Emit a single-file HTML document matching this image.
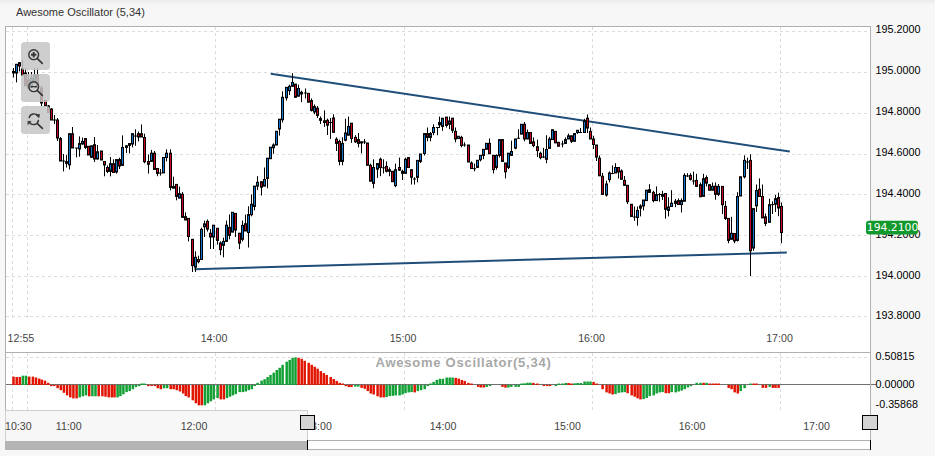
<!DOCTYPE html><html><head><meta charset="utf-8"><title>Awesome Oscillator (5,34)</title>
<style>html,body{margin:0;padding:0;background:#f7f7f7;overflow:hidden}svg{display:block}text{font-family:"Liberation Sans",Arial,sans-serif;font-size:11px}.ax{fill:#000;font-size:10.75px}.tm{fill:#444;font-size:10.65px}.g{stroke:#dcdcdc;stroke-width:1;stroke-dasharray:3 3;shape-rendering:crispEdges;fill:none}.b{stroke:#b0b0b0;stroke-width:1;shape-rendering:crispEdges;fill:none}.w{stroke:#000;stroke-width:1}.cr{fill:#c8061f;stroke:#000;stroke-width:1}.cb{fill:#1074cf;stroke:#000;stroke-width:1}.ar{fill:#e01400}.ag{fill:#12a035}</style></head><body>
<svg width="935" height="456" viewBox="0 0 935 456">
<defs><linearGradient id="tg" x1="0" y1="0" x2="0" y2="1"><stop offset="0" stop-color="#ebebeb"/><stop offset="1" stop-color="#f7f7f7"/></linearGradient></defs>
<rect x="0" y="0" width="935" height="456" fill="#f7f7f7"/>
<rect x="0" y="0" width="935" height="5" fill="url(#tg)"/>
<text x="16" y="15.6" fill="#333">Awesome Oscillator (5,34)</text>
<rect x="5.5" y="26.5" width="865" height="384" fill="#fff"/>
<rect x="307.5" y="410" width="563" height="31" fill="#fff"/>
<line class="g" x1="6" x2="870" y1="31.5" y2="31.5"/>
<line class="g" x1="6" x2="870" y1="72.5" y2="72.5"/>
<line class="g" x1="6" x2="870" y1="113.5" y2="113.5"/>
<line class="g" x1="6" x2="870" y1="154.5" y2="154.5"/>
<line class="g" x1="6" x2="870" y1="194.5" y2="194.5"/>
<line class="g" x1="6" x2="870" y1="235.5" y2="235.5"/>
<line class="g" x1="6" x2="870" y1="276.5" y2="276.5"/>
<line class="g" x1="6" x2="870" y1="316.5" y2="316.5"/>
<line class="g" x1="12.5" x2="12.5" y1="27" y2="320"/>
<line class="g" x1="12.5" x2="12.5" y1="353" y2="410"/>
<line class="g" x1="27.5" x2="27.5" y1="27" y2="320"/>
<line class="g" x1="27.5" x2="27.5" y1="353" y2="410"/>
<line class="g" x1="215.5" x2="215.5" y1="27" y2="320"/>
<line class="g" x1="215.5" x2="215.5" y1="353" y2="410"/>
<line class="g" x1="404.5" x2="404.5" y1="27" y2="320"/>
<line class="g" x1="404.5" x2="404.5" y1="353" y2="410"/>
<line class="g" x1="592.5" x2="592.5" y1="27" y2="320"/>
<line class="g" x1="592.5" x2="592.5" y1="353" y2="410"/>
<line class="g" x1="780.5" x2="780.5" y1="27" y2="320"/>
<line class="g" x1="780.5" x2="780.5" y1="353" y2="410"/>
<line class="g" x1="6" x2="870" y1="357.5" y2="357.5"/>
<line x1="270.7" y1="73.7" x2="789.8" y2="151.6" stroke="#1f4e79" stroke-width="2"/>
<line x1="194.4" y1="269.2" x2="786.8" y2="252.5" stroke="#1f4e79" stroke-width="2"/>
<line class="w" x1="13.5" x2="13.5" y1="68.0" y2="77.5"/>
<rect class="cr" x="12.50" y="71.5" width="2" height="1.5"/>
<line class="w" x1="16.5" x2="16.5" y1="64.0" y2="82.4"/>
<rect class="cb" x="15.50" y="64.3" width="2" height="8.7"/>
<line class="w" x1="19.5" x2="19.5" y1="62.0" y2="71.4"/>
<rect class="cr" x="18.50" y="62.7" width="2" height="3.3"/>
<line class="w" x1="22.5" x2="22.5" y1="60.0" y2="75.3"/>
<rect class="cr" x="21.50" y="68.7" width="2" height="6.6"/>
<line class="w" x1="25.5" x2="25.5" y1="68.0" y2="86.0"/>
<rect class="cr" x="24.50" y="73.0" width="2" height="12.7"/>
<line class="w" x1="28.5" x2="28.5" y1="72.0" y2="88.2"/>
<rect class="cr" x="27.50" y="80.0" width="2" height="8.0"/>
<line class="w" x1="31.5" x2="31.5" y1="72.0" y2="88.0"/>
<rect class="cb" x="30.50" y="78.0" width="2" height="9.0"/>
<line class="w" x1="34.5" x2="34.5" y1="68.0" y2="84.0"/>
<rect class="cb" x="33.50" y="75.0" width="2" height="7.0"/>
<line class="w" x1="37.5" x2="37.5" y1="68.0" y2="88.0"/>
<rect class="cr" x="36.50" y="74.8" width="2" height="11.2"/>
<line class="w" x1="41.5" x2="41.5" y1="86.0" y2="106.0"/>
<rect class="cr" x="40.50" y="88.0" width="2" height="15.0"/>
<line class="w" x1="45.5" x2="45.5" y1="100.0" y2="106.0"/>
<rect class="cr" x="44.50" y="100.5" width="2" height="5.5"/>
<line class="w" x1="48.5" x2="48.5" y1="105.0" y2="113.0"/>
<rect class="cr" x="47.50" y="106.0" width="2" height="6.5"/>
<line class="w" x1="51.5" x2="51.5" y1="108.0" y2="120.0"/>
<rect class="cr" x="50.50" y="109.0" width="2" height="11.0"/>
<line class="w" x1="54.5" x2="54.5" y1="115.0" y2="124.0"/>
<line class="w" x1="52.9" x2="56.1" y1="120.0" y2="120.0"/>
<line class="w" x1="57.5" x2="57.5" y1="118.0" y2="141.0"/>
<rect class="cr" x="56.50" y="120.0" width="2" height="18.0"/>
<line class="w" x1="60.5" x2="60.5" y1="137.0" y2="161.0"/>
<rect class="cr" x="59.50" y="138.6" width="2" height="22.4"/>
<line class="w" x1="63.5" x2="63.5" y1="154.0" y2="171.4"/>
<line class="w" x1="61.9" x2="65.1" y1="161.0" y2="161.0"/>
<line class="w" x1="66.5" x2="66.5" y1="155.0" y2="167.5"/>
<rect class="cr" x="65.50" y="161.7" width="2" height="1.6"/>
<line class="w" x1="69.5" x2="69.5" y1="133.7" y2="169.5"/>
<rect class="cb" x="68.50" y="133.7" width="2" height="31.1"/>
<line class="w" x1="72.5" x2="72.5" y1="127.0" y2="148.0"/>
<rect class="cr" x="71.50" y="133.7" width="2" height="14.3"/>
<line class="w" x1="76.5" x2="76.5" y1="148.0" y2="157.3"/>
<line class="w" x1="74.9" x2="78.1" y1="148.0" y2="148.0"/>
<line class="w" x1="79.5" x2="79.5" y1="136.4" y2="156.7"/>
<rect class="cb" x="78.50" y="143.6" width="2" height="5.4"/>
<line class="w" x1="82.5" x2="82.5" y1="137.5" y2="144.7"/>
<rect class="cb" x="81.50" y="141.4" width="2" height="2.6"/>
<line class="w" x1="85.5" x2="85.5" y1="138.0" y2="149.0"/>
<rect class="cr" x="84.50" y="138.6" width="2" height="8.8"/>
<line class="w" x1="88.5" x2="88.5" y1="146.0" y2="155.0"/>
<rect class="cr" x="87.50" y="146.3" width="2" height="8.7"/>
<line class="w" x1="91.5" x2="91.5" y1="145.8" y2="157.3"/>
<rect class="cb" x="90.50" y="145.8" width="2" height="11.5"/>
<line class="w" x1="94.5" x2="94.5" y1="137.0" y2="162.0"/>
<rect class="cr" x="93.50" y="144.7" width="2" height="14.3"/>
<line class="w" x1="97.5" x2="97.5" y1="145.0" y2="159.5"/>
<rect class="cb" x="96.50" y="151.8" width="2" height="7.2"/>
<line class="w" x1="101.5" x2="101.5" y1="151.0" y2="160.0"/>
<rect class="cr" x="100.50" y="151.0" width="2" height="9.0"/>
<line class="w" x1="104.5" x2="104.5" y1="161.0" y2="176.3"/>
<rect class="cr" x="103.50" y="161.5" width="2" height="3.5"/>
<line class="w" x1="107.5" x2="107.5" y1="165.4" y2="173.0"/>
<rect class="cr" x="106.50" y="167.5" width="2" height="3.9"/>
<line class="w" x1="110.5" x2="110.5" y1="157.0" y2="176.3"/>
<rect class="cb" x="109.50" y="163.7" width="2" height="7.7"/>
<line class="w" x1="113.5" x2="113.5" y1="159.3" y2="173.0"/>
<rect class="cr" x="112.50" y="163.7" width="2" height="8.8"/>
<line class="w" x1="116.5" x2="116.5" y1="159.6" y2="173.6"/>
<rect class="cb" x="115.50" y="159.6" width="2" height="12.4"/>
<line class="w" x1="119.5" x2="119.5" y1="157.7" y2="169.0"/>
<rect class="cr" x="118.50" y="159.6" width="2" height="6.4"/>
<line class="w" x1="122.5" x2="122.5" y1="135.4" y2="165.4"/>
<rect class="cb" x="121.50" y="147.4" width="2" height="18.0"/>
<line class="w" x1="126.5" x2="126.5" y1="145.2" y2="153.0"/>
<rect class="cb" x="125.50" y="145.8" width="2" height="1.6"/>
<line class="w" x1="129.5" x2="129.5" y1="143.0" y2="153.4"/>
<rect class="cb" x="128.50" y="143.6" width="2" height="1.8"/>
<line class="w" x1="132.5" x2="132.5" y1="133.7" y2="147.4"/>
<rect class="cb" x="131.50" y="133.7" width="2" height="10.3"/>
<line class="w" x1="135.5" x2="135.5" y1="129.3" y2="145.8"/>
<line class="w" x1="133.9" x2="137.1" y1="136.0" y2="136.0"/>
<line class="w" x1="138.5" x2="138.5" y1="131.5" y2="141.4"/>
<rect class="cr" x="137.50" y="133.7" width="2" height="3.3"/>
<line class="w" x1="141.5" x2="141.5" y1="124.4" y2="137.0"/>
<rect class="cr" x="140.50" y="133.7" width="2" height="3.3"/>
<line class="w" x1="144.5" x2="144.5" y1="133.7" y2="163.3"/>
<rect class="cr" x="143.50" y="137.5" width="2" height="24.2"/>
<line class="w" x1="148.5" x2="148.5" y1="154.4" y2="173.6"/>
<rect class="cr" x="147.50" y="161.5" width="2" height="2.8"/>
<line class="w" x1="151.5" x2="151.5" y1="149.9" y2="161.4"/>
<rect class="cb" x="150.50" y="153.2" width="2" height="8.2"/>
<line class="w" x1="154.5" x2="154.5" y1="151.0" y2="169.4"/>
<rect class="cr" x="153.50" y="153.2" width="2" height="16.2"/>
<line class="w" x1="157.5" x2="157.5" y1="168.5" y2="176.2"/>
<rect class="cr" x="156.50" y="168.5" width="2" height="4.9"/>
<line class="w" x1="160.5" x2="160.5" y1="169.0" y2="175.6"/>
<line class="w" x1="158.9" x2="162.1" y1="173.0" y2="173.0"/>
<line class="w" x1="163.5" x2="163.5" y1="157.5" y2="172.9"/>
<rect class="cb" x="162.50" y="157.5" width="2" height="15.4"/>
<line class="w" x1="166.5" x2="166.5" y1="149.3" y2="161.4"/>
<rect class="cb" x="165.50" y="153.2" width="2" height="4.3"/>
<line class="w" x1="170.5" x2="170.5" y1="149.3" y2="190.4"/>
<rect class="cr" x="169.50" y="153.2" width="2" height="34.2"/>
<line class="w" x1="173.5" x2="173.5" y1="176.7" y2="188.2"/>
<rect class="cb" x="172.50" y="186.6" width="2" height="1.6"/>
<line class="w" x1="176.5" x2="176.5" y1="184.4" y2="200.3"/>
<rect class="cr" x="175.50" y="184.4" width="2" height="12.0"/>
<line class="w" x1="179.5" x2="179.5" y1="186.6" y2="198.1"/>
<rect class="cb" x="178.50" y="193.7" width="2" height="4.4"/>
<line class="w" x1="182.5" x2="182.5" y1="192.0" y2="217.3"/>
<rect class="cr" x="181.50" y="194.3" width="2" height="23.0"/>
<line class="w" x1="185.5" x2="185.5" y1="212.3" y2="220.0"/>
<rect class="cr" x="184.50" y="216.7" width="2" height="3.3"/>
<line class="w" x1="188.5" x2="188.5" y1="218.4" y2="241.4"/>
<rect class="cr" x="187.50" y="218.4" width="2" height="18.1"/>
<line class="w" x1="192.5" x2="192.5" y1="239.3" y2="272.0"/>
<rect class="cr" x="191.50" y="239.3" width="2" height="26.3"/>
<line class="w" x1="195.5" x2="195.5" y1="251.3" y2="272.0"/>
<rect class="cb" x="194.50" y="257.3" width="2" height="9.9"/>
<line class="w" x1="198.5" x2="198.5" y1="255.7" y2="263.4"/>
<rect class="cr" x="197.50" y="259.5" width="2" height="2.2"/>
<line class="w" x1="201.5" x2="201.5" y1="227.7" y2="259.5"/>
<rect class="cb" x="200.50" y="229.4" width="2" height="30.1"/>
<line class="w" x1="204.5" x2="204.5" y1="220.6" y2="237.0"/>
<rect class="cb" x="203.50" y="223.9" width="2" height="2.9"/>
<line class="w" x1="207.5" x2="207.5" y1="219.5" y2="231.6"/>
<rect class="cr" x="206.50" y="221.4" width="2" height="7.7"/>
<line class="w" x1="210.5" x2="210.5" y1="229.0" y2="249.0"/>
<rect class="cr" x="209.50" y="233.2" width="2" height="3.8"/>
<line class="w" x1="213.5" x2="213.5" y1="225.2" y2="249.0"/>
<rect class="cb" x="212.50" y="225.2" width="2" height="11.8"/>
<line class="w" x1="217.5" x2="217.5" y1="228.3" y2="244.7"/>
<rect class="cr" x="216.50" y="228.3" width="2" height="12.1"/>
<line class="w" x1="220.5" x2="220.5" y1="241.4" y2="255.2"/>
<rect class="cr" x="219.50" y="243.0" width="2" height="6.7"/>
<line class="w" x1="223.5" x2="223.5" y1="237.6" y2="257.3"/>
<rect class="cb" x="222.50" y="241.4" width="2" height="3.9"/>
<line class="w" x1="226.5" x2="226.5" y1="220.6" y2="241.4"/>
<rect class="cb" x="225.50" y="225.2" width="2" height="16.2"/>
<line class="w" x1="229.5" x2="229.5" y1="214.5" y2="239.3"/>
<rect class="cr" x="228.50" y="227.4" width="2" height="8.0"/>
<line class="w" x1="232.5" x2="232.5" y1="212.3" y2="232.1"/>
<rect class="cb" x="231.50" y="212.3" width="2" height="19.8"/>
<line class="w" x1="235.5" x2="235.5" y1="213.4" y2="237.0"/>
<rect class="cr" x="234.50" y="213.4" width="2" height="16.6"/>
<line class="w" x1="239.5" x2="239.5" y1="233.2" y2="249.1"/>
<rect class="cr" x="238.50" y="233.2" width="2" height="9.9"/>
<line class="w" x1="242.5" x2="242.5" y1="220.6" y2="241.4"/>
<rect class="cb" x="241.50" y="225.4" width="2" height="13.9"/>
<line class="w" x1="245.5" x2="245.5" y1="214.6" y2="231.0"/>
<rect class="cr" x="244.50" y="223.8" width="2" height="7.2"/>
<line class="w" x1="248.5" x2="248.5" y1="206.3" y2="247.5"/>
<rect class="cb" x="247.50" y="214.6" width="2" height="17.9"/>
<line class="w" x1="251.5" x2="251.5" y1="194.4" y2="216.3"/>
<rect class="cb" x="250.50" y="204.3" width="2" height="10.4"/>
<line class="w" x1="254.5" x2="254.5" y1="186.1" y2="210.3"/>
<rect class="cb" x="253.50" y="186.1" width="2" height="20.3"/>
<line class="w" x1="257.5" x2="257.5" y1="176.2" y2="190.0"/>
<rect class="cb" x="256.50" y="182.3" width="2" height="3.8"/>
<line class="w" x1="261.5" x2="261.5" y1="181.7" y2="195.5"/>
<rect class="cr" x="260.50" y="181.7" width="2" height="5.5"/>
<line class="w" x1="264.5" x2="264.5" y1="167.5" y2="186.1"/>
<rect class="cb" x="263.50" y="179.5" width="2" height="6.6"/>
<line class="w" x1="267.5" x2="267.5" y1="158.2" y2="188.3"/>
<rect class="cb" x="266.50" y="158.2" width="2" height="20.2"/>
<line class="w" x1="270.5" x2="270.5" y1="147.2" y2="158.7"/>
<rect class="cb" x="269.50" y="147.2" width="2" height="11.5"/>
<line class="w" x1="273.5" x2="273.5" y1="143.3" y2="153.8"/>
<rect class="cb" x="272.50" y="145.0" width="2" height="2.7"/>
<line class="w" x1="276.5" x2="276.5" y1="131.3" y2="145.0"/>
<rect class="cb" x="275.50" y="131.3" width="2" height="13.7"/>
<line class="w" x1="279.5" x2="279.5" y1="119.2" y2="135.6"/>
<rect class="cb" x="278.50" y="119.2" width="2" height="9.8"/>
<line class="w" x1="282.5" x2="282.5" y1="91.3" y2="122.5"/>
<rect class="cb" x="281.50" y="97.3" width="2" height="22.4"/>
<line class="w" x1="286.5" x2="286.5" y1="87.4" y2="100.6"/>
<rect class="cb" x="285.50" y="87.4" width="2" height="10.4"/>
<line class="w" x1="289.5" x2="289.5" y1="84.7" y2="95.0"/>
<rect class="cb" x="288.50" y="86.3" width="2" height="4.4"/>
<line class="w" x1="292.5" x2="292.5" y1="73.2" y2="86.3"/>
<rect class="cb" x="291.50" y="82.5" width="2" height="3.8"/>
<line class="w" x1="295.5" x2="295.5" y1="84.1" y2="97.3"/>
<rect class="cr" x="294.50" y="84.1" width="2" height="13.2"/>
<line class="w" x1="298.5" x2="298.5" y1="84.7" y2="96.2"/>
<rect class="cb" x="297.50" y="88.5" width="2" height="7.7"/>
<line class="w" x1="301.5" x2="301.5" y1="90.7" y2="102.2"/>
<rect class="cr" x="300.50" y="92.3" width="2" height="1.7"/>
<line class="w" x1="305.5" x2="305.5" y1="88.5" y2="98.4"/>
<line class="w" x1="303.9" x2="307.1" y1="93.0" y2="93.0"/>
<line class="w" x1="308.5" x2="308.5" y1="93.4" y2="102.2"/>
<rect class="cr" x="307.50" y="93.4" width="2" height="8.8"/>
<line class="w" x1="311.5" x2="311.5" y1="98.4" y2="111.5"/>
<rect class="cr" x="310.50" y="100.6" width="2" height="9.8"/>
<line class="w" x1="314.5" x2="314.5" y1="104.4" y2="114.3"/>
<rect class="cb" x="313.50" y="106.6" width="2" height="5.4"/>
<line class="w" x1="317.5" x2="317.5" y1="106.0" y2="118.0"/>
<rect class="cr" x="316.50" y="108.2" width="2" height="7.2"/>
<line class="w" x1="320.5" x2="320.5" y1="116.4" y2="124.0"/>
<rect class="cr" x="319.50" y="118.6" width="2" height="1.7"/>
<line class="w" x1="324.5" x2="324.5" y1="110.4" y2="126.9"/>
<rect class="cr" x="323.50" y="120.8" width="2" height="1.7"/>
<line class="w" x1="327.5" x2="327.5" y1="118.6" y2="135.0"/>
<rect class="cr" x="326.50" y="120.3" width="2" height="4.9"/>
<line class="w" x1="330.5" x2="330.5" y1="118.0" y2="139.0"/>
<line class="w" x1="328.9" x2="332.1" y1="122.5" y2="122.5"/>
<line class="w" x1="333.5" x2="333.5" y1="114.3" y2="132.3"/>
<rect class="cr" x="332.50" y="118.0" width="2" height="14.3"/>
<line class="w" x1="336.5" x2="336.5" y1="137.3" y2="151.0"/>
<rect class="cr" x="335.50" y="139.2" width="2" height="4.2"/>
<line class="w" x1="339.5" x2="339.5" y1="139.6" y2="165.3"/>
<rect class="cr" x="338.50" y="141.5" width="2" height="19.9"/>
<line class="w" x1="342.5" x2="342.5" y1="137.4" y2="165.3"/>
<rect class="cb" x="341.50" y="143.4" width="2" height="18.0"/>
<line class="w" x1="345.5" x2="345.5" y1="118.8" y2="141.3"/>
<rect class="cb" x="344.50" y="133.0" width="2" height="7.2"/>
<line class="w" x1="348.5" x2="348.5" y1="116.6" y2="135.2"/>
<rect class="cb" x="347.50" y="126.4" width="2" height="8.8"/>
<line class="w" x1="351.5" x2="351.5" y1="123.2" y2="142.9"/>
<rect class="cr" x="350.50" y="123.2" width="2" height="15.3"/>
<line class="w" x1="355.5" x2="355.5" y1="135.2" y2="142.9"/>
<rect class="cr" x="354.50" y="137.4" width="2" height="4.4"/>
<line class="w" x1="358.5" x2="358.5" y1="133.0" y2="147.3"/>
<rect class="cr" x="357.50" y="139.6" width="2" height="3.8"/>
<line class="w" x1="361.5" x2="361.5" y1="141.8" y2="153.3"/>
<rect class="cr" x="360.50" y="141.8" width="2" height="1.2"/>
<line class="w" x1="364.5" x2="364.5" y1="139.0" y2="144.0"/>
<line class="w" x1="362.9" x2="366.1" y1="142.0" y2="142.0"/>
<line class="w" x1="367.5" x2="367.5" y1="143.0" y2="165.3"/>
<rect class="cr" x="366.50" y="143.0" width="2" height="22.3"/>
<line class="w" x1="370.5" x2="370.5" y1="163.6" y2="181.2"/>
<rect class="cr" x="369.50" y="165.3" width="2" height="15.9"/>
<line class="w" x1="373.5" x2="373.5" y1="159.3" y2="188.3"/>
<rect class="cb" x="372.50" y="167.5" width="2" height="15.9"/>
<line class="w" x1="377.5" x2="377.5" y1="163.6" y2="177.9"/>
<rect class="cb" x="376.50" y="163.6" width="2" height="5.5"/>
<line class="w" x1="380.5" x2="380.5" y1="157.6" y2="176.2"/>
<rect class="cr" x="379.50" y="159.3" width="2" height="8.2"/>
<line class="w" x1="383.5" x2="383.5" y1="159.3" y2="173.5"/>
<line class="w" x1="381.9" x2="385.1" y1="167.8" y2="167.8"/>
<line class="w" x1="386.5" x2="386.5" y1="161.4" y2="172.4"/>
<rect class="cr" x="385.50" y="166.4" width="2" height="4.9"/>
<line class="w" x1="389.5" x2="389.5" y1="167.5" y2="176.2"/>
<rect class="cb" x="388.50" y="169.7" width="2" height="1.6"/>
<line class="w" x1="392.5" x2="392.5" y1="171.3" y2="181.7"/>
<rect class="cr" x="391.50" y="171.3" width="2" height="10.4"/>
<line class="w" x1="395.5" x2="395.5" y1="163.6" y2="187.2"/>
<rect class="cb" x="394.50" y="169.7" width="2" height="15.9"/>
<line class="w" x1="399.5" x2="399.5" y1="157.6" y2="170.8"/>
<rect class="cr" x="398.50" y="167.5" width="2" height="2.7"/>
<line class="w" x1="402.5" x2="402.5" y1="169.7" y2="180.0"/>
<rect class="cr" x="401.50" y="171.3" width="2" height="2.0"/>
<line class="w" x1="405.5" x2="405.5" y1="157.6" y2="173.3"/>
<rect class="cb" x="404.50" y="159.3" width="2" height="14.0"/>
<line class="w" x1="408.5" x2="408.5" y1="157.1" y2="167.5"/>
<rect class="cr" x="407.50" y="157.6" width="2" height="9.9"/>
<line class="w" x1="411.5" x2="411.5" y1="169.7" y2="184.5"/>
<rect class="cr" x="410.50" y="169.7" width="2" height="7.6"/>
<line class="w" x1="414.5" x2="414.5" y1="177.3" y2="184.5"/>
<line class="w" x1="412.9" x2="416.1" y1="179.0" y2="179.0"/>
<line class="w" x1="417.5" x2="417.5" y1="160.4" y2="182.3"/>
<rect class="cb" x="416.50" y="160.4" width="2" height="16.9"/>
<line class="w" x1="420.5" x2="420.5" y1="154.0" y2="163.0"/>
<rect class="cb" x="419.50" y="154.0" width="2" height="7.4"/>
<line class="w" x1="424.5" x2="424.5" y1="133.6" y2="155.5"/>
<rect class="cb" x="423.50" y="133.6" width="2" height="19.9"/>
<line class="w" x1="427.5" x2="427.5" y1="127.5" y2="141.3"/>
<rect class="cr" x="426.50" y="133.6" width="2" height="3.8"/>
<line class="w" x1="430.5" x2="430.5" y1="132.0" y2="141.3"/>
<rect class="cb" x="429.50" y="133.6" width="2" height="3.8"/>
<line class="w" x1="433.5" x2="433.5" y1="124.3" y2="135.2"/>
<rect class="cb" x="432.50" y="127.5" width="2" height="5.0"/>
<line class="w" x1="437.5" x2="437.5" y1="127.5" y2="135.2"/>
<line class="w" x1="435.9" x2="439.1" y1="127.5" y2="127.5"/>
<line class="w" x1="439.5" x2="439.5" y1="116.6" y2="128.0"/>
<rect class="cr" x="438.50" y="122.6" width="2" height="2.2"/>
<line class="w" x1="442.5" x2="442.5" y1="118.2" y2="130.8"/>
<rect class="cb" x="441.50" y="118.2" width="2" height="8.2"/>
<line class="w" x1="446.5" x2="446.5" y1="117.1" y2="127.5"/>
<rect class="cr" x="445.50" y="117.1" width="2" height="8.3"/>
<line class="w" x1="449.5" x2="449.5" y1="116.6" y2="129.2"/>
<rect class="cb" x="448.50" y="121.0" width="2" height="3.3"/>
<line class="w" x1="452.5" x2="452.5" y1="118.2" y2="133.0"/>
<rect class="cr" x="451.50" y="118.2" width="2" height="12.1"/>
<line class="w" x1="455.5" x2="455.5" y1="127.5" y2="142.3"/>
<rect class="cr" x="454.50" y="131.4" width="2" height="7.6"/>
<line class="w" x1="458.5" x2="458.5" y1="136.3" y2="138.5"/>
<rect class="cb" x="457.50" y="136.3" width="2" height="2.2"/>
<line class="w" x1="461.5" x2="461.5" y1="135.8" y2="147.3"/>
<rect class="cr" x="460.50" y="137.4" width="2" height="8.2"/>
<line class="w" x1="464.5" x2="464.5" y1="142.3" y2="146.7"/>
<line class="w" x1="462.9" x2="466.1" y1="145.0" y2="145.0"/>
<line class="w" x1="468.5" x2="468.5" y1="145.0" y2="162.0"/>
<rect class="cr" x="467.50" y="145.0" width="2" height="17.0"/>
<line class="w" x1="471.5" x2="471.5" y1="161.4" y2="168.5"/>
<rect class="cr" x="470.50" y="163.0" width="2" height="5.5"/>
<line class="w" x1="474.5" x2="474.5" y1="163.6" y2="171.3"/>
<line class="w" x1="472.9" x2="476.1" y1="168.7" y2="168.7"/>
<line class="w" x1="477.5" x2="477.5" y1="160.3" y2="167.4"/>
<rect class="cb" x="476.50" y="160.3" width="2" height="7.1"/>
<line class="w" x1="480.5" x2="480.5" y1="155.4" y2="161.4"/>
<rect class="cb" x="479.50" y="155.4" width="2" height="4.3"/>
<line class="w" x1="483.5" x2="483.5" y1="149.3" y2="159.2"/>
<rect class="cb" x="482.50" y="149.3" width="2" height="6.1"/>
<line class="w" x1="486.5" x2="486.5" y1="143.3" y2="149.3"/>
<rect class="cb" x="485.50" y="143.3" width="2" height="6.0"/>
<line class="w" x1="489.5" x2="489.5" y1="138.5" y2="153.7"/>
<rect class="cr" x="488.50" y="143.3" width="2" height="10.4"/>
<line class="w" x1="493.5" x2="493.5" y1="155.4" y2="173.4"/>
<rect class="cr" x="492.50" y="155.4" width="2" height="14.2"/>
<line class="w" x1="496.5" x2="496.5" y1="154.3" y2="169.6"/>
<rect class="cb" x="495.50" y="155.4" width="2" height="12.0"/>
<line class="w" x1="499.5" x2="499.5" y1="139.6" y2="157.5"/>
<rect class="cb" x="498.50" y="139.6" width="2" height="15.8"/>
<line class="w" x1="502.5" x2="502.5" y1="139.6" y2="161.4"/>
<rect class="cr" x="501.50" y="139.6" width="2" height="21.8"/>
<line class="w" x1="505.5" x2="505.5" y1="163.0" y2="178.4"/>
<rect class="cr" x="504.50" y="163.0" width="2" height="8.8"/>
<line class="w" x1="508.5" x2="508.5" y1="153.2" y2="169.0"/>
<rect class="cb" x="507.50" y="153.2" width="2" height="14.2"/>
<line class="w" x1="511.5" x2="511.5" y1="140.7" y2="155.5"/>
<rect class="cb" x="510.50" y="151.5" width="2" height="3.9"/>
<line class="w" x1="515.5" x2="515.5" y1="139.0" y2="149.3"/>
<rect class="cb" x="514.50" y="139.0" width="2" height="9.2"/>
<line class="w" x1="518.5" x2="518.5" y1="129.2" y2="138.5"/>
<line class="w" x1="516.9" x2="520.1" y1="138.3" y2="138.3"/>
<line class="w" x1="521.5" x2="521.5" y1="124.3" y2="134.1"/>
<rect class="cb" x="520.50" y="124.3" width="2" height="9.8"/>
<line class="w" x1="524.5" x2="524.5" y1="122.0" y2="141.3"/>
<rect class="cr" x="523.50" y="124.3" width="2" height="14.7"/>
<line class="w" x1="527.5" x2="527.5" y1="129.5" y2="139.0"/>
<rect class="cb" x="526.50" y="132.5" width="2" height="6.5"/>
<line class="w" x1="530.5" x2="530.5" y1="132.5" y2="143.4"/>
<rect class="cr" x="529.50" y="132.5" width="2" height="10.9"/>
<line class="w" x1="533.5" x2="533.5" y1="137.4" y2="147.3"/>
<rect class="cr" x="532.50" y="141.8" width="2" height="3.8"/>
<line class="w" x1="537.5" x2="537.5" y1="139.6" y2="157.1"/>
<rect class="cr" x="536.50" y="146.7" width="2" height="3.9"/>
<line class="w" x1="540.5" x2="540.5" y1="151.7" y2="159.3"/>
<rect class="cr" x="539.50" y="153.3" width="2" height="4.4"/>
<line class="w" x1="543.5" x2="543.5" y1="147.8" y2="158.0"/>
<line class="w" x1="541.9" x2="545.1" y1="157.0" y2="157.0"/>
<line class="w" x1="546.5" x2="546.5" y1="135.2" y2="163.2"/>
<rect class="cb" x="545.50" y="149.5" width="2" height="9.8"/>
<line class="w" x1="549.5" x2="549.5" y1="136.9" y2="148.4"/>
<rect class="cb" x="548.50" y="139.0" width="2" height="9.4"/>
<line class="w" x1="552.5" x2="552.5" y1="129.7" y2="139.6"/>
<rect class="cb" x="551.50" y="129.7" width="2" height="9.9"/>
<line class="w" x1="555.5" x2="555.5" y1="131.4" y2="142.9"/>
<rect class="cr" x="554.50" y="131.4" width="2" height="11.5"/>
<line class="w" x1="558.5" x2="558.5" y1="142.3" y2="146.2"/>
<rect class="cr" x="557.50" y="142.3" width="2" height="3.9"/>
<line class="w" x1="562.5" x2="562.5" y1="140.7" y2="147.3"/>
<line class="w" x1="560.9" x2="564.1" y1="144.0" y2="144.0"/>
<line class="w" x1="565.5" x2="565.5" y1="137.4" y2="143.4"/>
<rect class="cb" x="564.50" y="139.6" width="2" height="3.8"/>
<line class="w" x1="568.5" x2="568.5" y1="133.6" y2="139.0"/>
<rect class="cb" x="567.50" y="135.8" width="2" height="3.2"/>
<line class="w" x1="571.5" x2="571.5" y1="135.8" y2="143.0"/>
<rect class="cr" x="570.50" y="135.8" width="2" height="5.5"/>
<line class="w" x1="574.5" x2="574.5" y1="133.6" y2="141.3"/>
<rect class="cb" x="573.50" y="133.6" width="2" height="7.7"/>
<line class="w" x1="577.5" x2="577.5" y1="130.3" y2="134.0"/>
<rect class="cb" x="576.50" y="130.3" width="2" height="2.2"/>
<line class="w" x1="580.5" x2="580.5" y1="128.0" y2="133.0"/>
<line class="w" x1="578.9" x2="582.1" y1="132.5" y2="132.5"/>
<line class="w" x1="584.5" x2="584.5" y1="118.8" y2="132.5"/>
<rect class="cb" x="583.50" y="121.0" width="2" height="11.5"/>
<line class="w" x1="587.5" x2="587.5" y1="114.4" y2="133.0"/>
<rect class="cr" x="586.50" y="118.2" width="2" height="9.8"/>
<line class="w" x1="590.5" x2="590.5" y1="127.5" y2="139.0"/>
<rect class="cr" x="589.50" y="131.4" width="2" height="7.6"/>
<line class="w" x1="593.5" x2="593.5" y1="135.8" y2="149.0"/>
<rect class="cr" x="592.50" y="139.0" width="2" height="5.5"/>
<line class="w" x1="596.5" x2="596.5" y1="145.0" y2="161.0"/>
<rect class="cr" x="595.50" y="145.0" width="2" height="12.1"/>
<line class="w" x1="599.5" x2="599.5" y1="155.5" y2="175.8"/>
<rect class="cr" x="598.50" y="158.2" width="2" height="17.6"/>
<line class="w" x1="602.5" x2="602.5" y1="173.0" y2="194.4"/>
<rect class="cr" x="601.50" y="176.3" width="2" height="18.1"/>
<line class="w" x1="606.5" x2="606.5" y1="180.7" y2="196.6"/>
<rect class="cb" x="605.50" y="184.0" width="2" height="11.0"/>
<line class="w" x1="609.5" x2="609.5" y1="171.4" y2="182.3"/>
<rect class="cb" x="608.50" y="173.0" width="2" height="6.6"/>
<line class="w" x1="612.5" x2="612.5" y1="165.4" y2="174.1"/>
<line class="w" x1="610.9" x2="614.1" y1="173.6" y2="173.6"/>
<line class="w" x1="615.5" x2="615.5" y1="163.2" y2="173.0"/>
<rect class="cb" x="614.50" y="167.5" width="2" height="5.5"/>
<line class="w" x1="618.5" x2="618.5" y1="167.5" y2="178.5"/>
<rect class="cr" x="617.50" y="167.5" width="2" height="4.5"/>
<line class="w" x1="621.5" x2="621.5" y1="169.4" y2="179.3"/>
<rect class="cr" x="620.50" y="171.0" width="2" height="8.3"/>
<line class="w" x1="624.5" x2="624.5" y1="176.0" y2="185.3"/>
<rect class="cr" x="623.50" y="180.4" width="2" height="4.9"/>
<line class="w" x1="627.5" x2="627.5" y1="185.3" y2="204.0"/>
<rect class="cr" x="626.50" y="185.3" width="2" height="16.4"/>
<line class="w" x1="631.5" x2="631.5" y1="204.3" y2="216.4"/>
<rect class="cr" x="630.50" y="204.3" width="2" height="12.1"/>
<line class="w" x1="634.5" x2="634.5" y1="206.5" y2="220.8"/>
<line class="w" x1="632.9" x2="636.1" y1="217.0" y2="217.0"/>
<line class="w" x1="637.5" x2="637.5" y1="206.5" y2="225.7"/>
<rect class="cb" x="636.50" y="210.4" width="2" height="7.1"/>
<line class="w" x1="640.5" x2="640.5" y1="204.3" y2="216.4"/>
<rect class="cb" x="639.50" y="206.0" width="2" height="2.2"/>
<line class="w" x1="643.5" x2="643.5" y1="200.0" y2="210.4"/>
<rect class="cb" x="642.50" y="200.0" width="2" height="6.0"/>
<line class="w" x1="646.5" x2="646.5" y1="190.2" y2="200.6"/>
<rect class="cb" x="645.50" y="190.2" width="2" height="10.4"/>
<line class="w" x1="649.5" x2="649.5" y1="184.2" y2="192.4"/>
<rect class="cr" x="648.50" y="189.7" width="2" height="2.7"/>
<line class="w" x1="653.5" x2="653.5" y1="190.8" y2="202.3"/>
<rect class="cr" x="652.50" y="192.4" width="2" height="8.2"/>
<line class="w" x1="656.5" x2="656.5" y1="186.4" y2="200.6"/>
<rect class="cb" x="655.50" y="194.6" width="2" height="6.0"/>
<line class="w" x1="659.5" x2="659.5" y1="193.0" y2="201.7"/>
<line class="w" x1="657.9" x2="661.1" y1="194.6" y2="194.6"/>
<line class="w" x1="662.5" x2="662.5" y1="190.8" y2="200.0"/>
<rect class="cb" x="661.50" y="194.4" width="2" height="1.9"/>
<line class="w" x1="665.5" x2="665.5" y1="193.5" y2="218.6"/>
<rect class="cr" x="664.50" y="193.5" width="2" height="15.8"/>
<line class="w" x1="668.5" x2="668.5" y1="197.3" y2="216.4"/>
<rect class="cb" x="667.50" y="207.0" width="2" height="3.4"/>
<line class="w" x1="671.5" x2="671.5" y1="190.2" y2="206.5"/>
<rect class="cb" x="670.50" y="203.2" width="2" height="3.3"/>
<line class="w" x1="675.5" x2="675.5" y1="199.0" y2="207.2"/>
<rect class="cb" x="674.50" y="201.2" width="2" height="2.2"/>
<line class="w" x1="678.5" x2="678.5" y1="198.4" y2="204.5"/>
<rect class="cr" x="677.50" y="200.6" width="2" height="3.9"/>
<line class="w" x1="681.5" x2="681.5" y1="198.4" y2="212.5"/>
<rect class="cb" x="680.50" y="200.6" width="2" height="3.9"/>
<line class="w" x1="684.5" x2="684.5" y1="173.2" y2="201.2"/>
<rect class="cb" x="683.50" y="175.4" width="2" height="25.8"/>
<line class="w" x1="687.5" x2="687.5" y1="173.2" y2="177.0"/>
<line class="w" x1="685.9" x2="689.1" y1="176.0" y2="176.0"/>
<line class="w" x1="690.5" x2="690.5" y1="173.2" y2="180.4"/>
<rect class="cr" x="689.50" y="175.4" width="2" height="3.9"/>
<line class="w" x1="693.5" x2="693.5" y1="171.6" y2="184.7"/>
<line class="w" x1="691.9" x2="695.1" y1="181.0" y2="181.0"/>
<line class="w" x1="696.5" x2="696.5" y1="173.8" y2="186.4"/>
<rect class="cr" x="695.50" y="180.4" width="2" height="6.0"/>
<line class="w" x1="700.5" x2="700.5" y1="182.5" y2="196.8"/>
<rect class="cr" x="699.50" y="184.7" width="2" height="12.1"/>
<line class="w" x1="703.5" x2="703.5" y1="173.8" y2="196.3"/>
<rect class="cb" x="702.50" y="178.7" width="2" height="17.6"/>
<line class="w" x1="706.5" x2="706.5" y1="175.4" y2="186.4"/>
<rect class="cr" x="705.50" y="177.6" width="2" height="5.5"/>
<line class="w" x1="709.5" x2="709.5" y1="184.7" y2="190.2"/>
<rect class="cr" x="708.50" y="184.7" width="2" height="5.5"/>
<line class="w" x1="712.5" x2="712.5" y1="182.5" y2="190.2"/>
<rect class="cb" x="711.50" y="186.4" width="2" height="3.8"/>
<line class="w" x1="715.5" x2="715.5" y1="182.5" y2="199.8"/>
<rect class="cr" x="714.50" y="186.2" width="2" height="8.1"/>
<line class="w" x1="718.5" x2="718.5" y1="184.0" y2="196.0"/>
<rect class="cb" x="717.50" y="186.4" width="2" height="7.9"/>
<line class="w" x1="722.5" x2="722.5" y1="186.4" y2="214.0"/>
<rect class="cr" x="721.50" y="186.4" width="2" height="18.3"/>
<line class="w" x1="725.5" x2="725.5" y1="201.0" y2="220.0"/>
<rect class="cr" x="724.50" y="206.4" width="2" height="12.0"/>
<line class="w" x1="728.5" x2="728.5" y1="218.4" y2="243.2"/>
<rect class="cr" x="727.50" y="218.4" width="2" height="22.0"/>
<line class="w" x1="731.5" x2="731.5" y1="216.8" y2="239.3"/>
<rect class="cb" x="730.50" y="233.3" width="2" height="6.0"/>
<line class="w" x1="734.5" x2="734.5" y1="233.5" y2="243.2"/>
<rect class="cr" x="733.50" y="233.5" width="2" height="7.5"/>
<line class="w" x1="737.5" x2="737.5" y1="192.2" y2="241.5"/>
<rect class="cb" x="736.50" y="196.5" width="2" height="43.9"/>
<line class="w" x1="740.5" x2="740.5" y1="176.8" y2="196.0"/>
<rect class="cb" x="739.50" y="176.8" width="2" height="19.2"/>
<line class="w" x1="744.5" x2="744.5" y1="155.4" y2="178.4"/>
<rect class="cb" x="743.50" y="160.4" width="2" height="16.4"/>
<line class="w" x1="747.5" x2="747.5" y1="157.6" y2="169.0"/>
<line class="w" x1="745.9" x2="749.1" y1="162.0" y2="162.0"/>
<line class="w" x1="750.5" x2="750.5" y1="154.3" y2="276.0"/>
<rect class="cr" x="749.50" y="160.4" width="2" height="90.4"/>
<line class="w" x1="753.5" x2="753.5" y1="208.6" y2="250.8"/>
<rect class="cb" x="752.50" y="208.6" width="2" height="39.4"/>
<line class="w" x1="756.5" x2="756.5" y1="184.5" y2="211.9"/>
<rect class="cb" x="755.50" y="190.5" width="2" height="15.3"/>
<line class="w" x1="759.5" x2="759.5" y1="178.4" y2="196.5"/>
<rect class="cr" x="758.50" y="189.2" width="2" height="7.3"/>
<line class="w" x1="762.5" x2="762.5" y1="184.5" y2="217.9"/>
<rect class="cr" x="761.50" y="196.5" width="2" height="21.4"/>
<line class="w" x1="765.5" x2="765.5" y1="213.5" y2="226.1"/>
<rect class="cr" x="764.50" y="216.8" width="2" height="6.6"/>
<line class="w" x1="769.5" x2="769.5" y1="198.7" y2="222.3"/>
<rect class="cb" x="768.50" y="204.7" width="2" height="17.6"/>
<line class="w" x1="772.5" x2="772.5" y1="201.4" y2="214.0"/>
<line class="w" x1="770.9" x2="774.1" y1="204.7" y2="204.7"/>
<line class="w" x1="775.5" x2="775.5" y1="194.9" y2="211.9"/>
<rect class="cb" x="774.50" y="198.7" width="2" height="5.5"/>
<line class="w" x1="778.5" x2="778.5" y1="192.7" y2="216.2"/>
<rect class="cr" x="777.50" y="197.6" width="2" height="10.4"/>
<line class="w" x1="781.5" x2="781.5" y1="202.5" y2="243.2"/>
<rect class="cr" x="780.50" y="206.4" width="2" height="26.1"/>
<line x1="6" x2="876" y1="384.5" y2="384.5" stroke="#707070" stroke-width="1" shape-rendering="crispEdges"/>
<rect class="ar" x="12.25" y="376.6" width="2.5" height="8.4"/>
<rect class="ar" x="15.45" y="377.0" width="2.5" height="8.0"/>
<rect class="ar" x="18.55" y="377.0" width="2.5" height="8.0"/>
<rect class="ag" x="21.65" y="375.7" width="2.5" height="9.3"/>
<rect class="ag" x="24.75" y="375.7" width="2.5" height="9.3"/>
<rect class="ar" x="27.95" y="376.6" width="2.5" height="8.4"/>
<rect class="ar" x="31.65" y="376.6" width="2.5" height="8.4"/>
<rect class="ar" x="34.75" y="377.5" width="2.5" height="7.5"/>
<rect class="ar" x="37.95" y="378.6" width="2.5" height="6.4"/>
<rect class="ar" x="40.55" y="379.6" width="2.5" height="5.4"/>
<rect class="ar" x="43.75" y="380.6" width="2.5" height="4.4"/>
<rect class="ar" x="46.95" y="382.8" width="2.5" height="2.2"/>
<rect class="ar" x="50.05" y="384.9" width="2.5" height="1.3"/>
<rect class="ar" x="53.05" y="384.9" width="2.5" height="1.2"/>
<rect class="ar" x="56.35" y="384.9" width="2.5" height="3.3"/>
<rect class="ar" x="59.55" y="384.9" width="2.5" height="5.3"/>
<rect class="ar" x="62.65" y="384.9" width="2.5" height="7.9"/>
<rect class="ar" x="65.85" y="384.9" width="2.5" height="10.5"/>
<rect class="ar" x="69.05" y="384.9" width="2.5" height="12.5"/>
<rect class="ar" x="72.15" y="384.9" width="2.5" height="13.5"/>
<rect class="ar" x="75.35" y="384.9" width="2.5" height="13.5"/>
<rect class="ag" x="78.45" y="384.9" width="2.5" height="12.5"/>
<rect class="ag" x="81.65" y="384.9" width="2.5" height="11.4"/>
<rect class="ag" x="84.75" y="384.9" width="2.5" height="10.5"/>
<rect class="ar" x="87.95" y="384.9" width="2.5" height="11.4"/>
<rect class="ag" x="91.15" y="384.9" width="2.5" height="11.4"/>
<rect class="ag" x="94.25" y="384.9" width="2.5" height="11.4"/>
<rect class="ar" x="97.45" y="384.9" width="2.5" height="11.4"/>
<rect class="ar" x="101.15" y="384.9" width="2.5" height="11.4"/>
<rect class="ar" x="104.25" y="384.9" width="2.5" height="11.8"/>
<rect class="ar" x="107.45" y="384.9" width="2.5" height="12.5"/>
<rect class="ar" x="110.55" y="384.9" width="2.5" height="12.5"/>
<rect class="ar" x="113.25" y="384.9" width="2.5" height="12.5"/>
<rect class="ag" x="116.35" y="384.9" width="2.5" height="12.5"/>
<rect class="ag" x="119.15" y="384.9" width="2.5" height="11.2"/>
<rect class="ag" x="122.15" y="384.9" width="2.5" height="9.4"/>
<rect class="ag" x="125.35" y="384.9" width="2.5" height="7.2"/>
<rect class="ag" x="128.45" y="384.9" width="2.5" height="6.2"/>
<rect class="ag" x="131.65" y="384.9" width="2.5" height="4.3"/>
<rect class="ag" x="134.75" y="384.9" width="2.5" height="2.2"/>
<rect class="ag" x="137.95" y="384.9" width="2.5" height="1.2"/>
<rect class="ag" x="140.45" y="383.5" width="2.5" height="1.5"/>
<rect class="ag" x="143.05" y="383.5" width="2.5" height="1.5"/>
<rect class="ar" x="147.05" y="384.9" width="2.5" height="1.3"/>
<rect class="ar" x="150.35" y="384.9" width="2.5" height="1.2"/>
<rect class="ar" x="153.65" y="384.9" width="2.5" height="1.2"/>
<rect class="ar" x="156.55" y="384.9" width="2.5" height="3.3"/>
<rect class="ar" x="159.55" y="384.9" width="2.5" height="4.3"/>
<rect class="ag" x="162.75" y="384.9" width="2.5" height="3.3"/>
<rect class="ag" x="165.85" y="384.9" width="2.5" height="3.3"/>
<rect class="ar" x="169.45" y="384.9" width="2.5" height="4.3"/>
<rect class="ar" x="172.45" y="384.9" width="2.5" height="4.3"/>
<rect class="ar" x="175.55" y="384.9" width="2.5" height="5.3"/>
<rect class="ar" x="178.75" y="384.9" width="2.5" height="6.6"/>
<rect class="ar" x="181.95" y="384.9" width="2.5" height="8.6"/>
<rect class="ar" x="184.55" y="384.9" width="2.5" height="11.2"/>
<rect class="ar" x="187.45" y="384.9" width="2.5" height="12.5"/>
<rect class="ar" x="191.55" y="384.9" width="2.5" height="15.4"/>
<rect class="ar" x="194.65" y="384.9" width="2.5" height="18.4"/>
<rect class="ar" x="197.65" y="384.9" width="2.5" height="20.4"/>
<rect class="ar" x="200.55" y="384.9" width="2.5" height="20.4"/>
<rect class="ag" x="203.65" y="384.9" width="2.5" height="20.4"/>
<rect class="ag" x="206.65" y="384.9" width="2.5" height="18.4"/>
<rect class="ag" x="209.55" y="384.9" width="2.5" height="16.4"/>
<rect class="ag" x="212.45" y="384.9" width="2.5" height="14.5"/>
<rect class="ag" x="216.35" y="384.9" width="2.5" height="13.2"/>
<rect class="ar" x="219.55" y="384.9" width="2.5" height="14.5"/>
<rect class="ar" x="222.65" y="384.9" width="2.5" height="14.5"/>
<rect class="ag" x="225.75" y="384.9" width="2.5" height="13.2"/>
<rect class="ag" x="228.75" y="384.9" width="2.5" height="11.8"/>
<rect class="ag" x="231.65" y="384.9" width="2.5" height="10.5"/>
<rect class="ag" x="234.55" y="384.9" width="2.5" height="9.2"/>
<rect class="ag" x="238.45" y="384.9" width="2.5" height="7.2"/>
<rect class="ag" x="241.65" y="384.9" width="2.5" height="7.2"/>
<rect class="ag" x="244.55" y="384.9" width="2.5" height="6.6"/>
<rect class="ag" x="247.55" y="384.9" width="2.5" height="5.3"/>
<rect class="ag" x="250.55" y="384.9" width="2.5" height="4.3"/>
<rect class="ag" x="253.45" y="384.9" width="2.5" height="1.2"/>
<rect class="ag" x="256.35" y="382.8" width="2.5" height="2.2"/>
<rect class="ag" x="260.35" y="380.6" width="2.5" height="4.4"/>
<rect class="ag" x="263.35" y="379.2" width="2.5" height="5.8"/>
<rect class="ag" x="266.35" y="377.0" width="2.5" height="8.0"/>
<rect class="ag" x="269.25" y="374.9" width="2.5" height="10.1"/>
<rect class="ag" x="272.45" y="372.7" width="2.5" height="12.3"/>
<rect class="ag" x="275.55" y="370.0" width="2.5" height="15.0"/>
<rect class="ag" x="278.45" y="367.8" width="2.5" height="17.2"/>
<rect class="ag" x="281.35" y="364.8" width="2.5" height="20.2"/>
<rect class="ag" x="285.45" y="361.7" width="2.5" height="23.3"/>
<rect class="ag" x="288.45" y="359.9" width="2.5" height="25.1"/>
<rect class="ag" x="291.35" y="357.8" width="2.5" height="27.2"/>
<rect class="ag" x="294.25" y="357.5" width="2.5" height="27.5"/>
<rect class="ar" x="297.35" y="357.8" width="2.5" height="27.2"/>
<rect class="ar" x="300.45" y="358.8" width="2.5" height="26.2"/>
<rect class="ar" x="303.45" y="360.8" width="2.5" height="24.2"/>
<rect class="ar" x="307.45" y="362.8" width="2.5" height="22.2"/>
<rect class="ar" x="310.45" y="364.8" width="2.5" height="20.2"/>
<rect class="ar" x="313.45" y="366.7" width="2.5" height="18.3"/>
<rect class="ar" x="316.35" y="368.7" width="2.5" height="16.3"/>
<rect class="ar" x="319.55" y="371.1" width="2.5" height="13.9"/>
<rect class="ar" x="322.55" y="373.1" width="2.5" height="11.9"/>
<rect class="ar" x="325.45" y="374.9" width="2.5" height="10.1"/>
<rect class="ar" x="329.45" y="377.0" width="2.5" height="8.0"/>
<rect class="ar" x="332.45" y="379.0" width="2.5" height="6.0"/>
<rect class="ar" x="335.45" y="380.9" width="2.5" height="4.1"/>
<rect class="ar" x="338.45" y="382.8" width="2.5" height="2.2"/>
<rect class="ar" x="341.65" y="383.5" width="2.5" height="1.5"/>
<rect class="ar" x="344.65" y="384.9" width="2.5" height="1.2"/>
<rect class="ar" x="347.55" y="384.9" width="2.5" height="2.2"/>
<rect class="ar" x="350.25" y="384.9" width="2.5" height="2.2"/>
<rect class="ag" x="354.05" y="384.9" width="2.5" height="1.7"/>
<rect class="ag" x="357.05" y="384.9" width="2.5" height="1.7"/>
<rect class="ar" x="360.35" y="384.9" width="2.5" height="3.0"/>
<rect class="ar" x="363.45" y="384.9" width="2.5" height="3.9"/>
<rect class="ar" x="366.55" y="384.9" width="2.5" height="6.2"/>
<rect class="ar" x="369.55" y="384.9" width="2.5" height="8.6"/>
<rect class="ar" x="372.45" y="384.9" width="2.5" height="9.6"/>
<rect class="ar" x="376.35" y="384.9" width="2.5" height="11.4"/>
<rect class="ar" x="379.45" y="384.9" width="2.5" height="12.5"/>
<rect class="ar" x="382.45" y="384.9" width="2.5" height="12.5"/>
<rect class="ag" x="385.35" y="384.9" width="2.5" height="12.2"/>
<rect class="ag" x="388.45" y="384.9" width="2.5" height="11.2"/>
<rect class="ag" x="391.55" y="384.9" width="2.5" height="10.9"/>
<rect class="ag" x="394.45" y="384.9" width="2.5" height="10.5"/>
<rect class="ag" x="398.35" y="384.9" width="2.5" height="10.5"/>
<rect class="ag" x="401.35" y="384.9" width="2.5" height="9.6"/>
<rect class="ag" x="404.25" y="384.9" width="2.5" height="8.3"/>
<rect class="ag" x="407.45" y="384.9" width="2.5" height="7.5"/>
<rect class="ag" x="410.35" y="384.9" width="2.5" height="7.2"/>
<rect class="ar" x="413.45" y="384.9" width="2.5" height="7.5"/>
<rect class="ag" x="416.55" y="384.9" width="2.5" height="6.2"/>
<rect class="ag" x="419.85" y="384.9" width="2.5" height="5.3"/>
<rect class="ag" x="423.45" y="384.9" width="2.5" height="4.3"/>
<rect class="ag" x="426.65" y="384.9" width="2.5" height="1.2"/>
<rect class="ag" x="429.25" y="383.5" width="2.5" height="1.5"/>
<rect class="ag" x="432.35" y="381.9" width="2.5" height="3.1"/>
<rect class="ag" x="435.55" y="379.9" width="2.5" height="5.1"/>
<rect class="ag" x="438.65" y="378.8" width="2.5" height="6.2"/>
<rect class="ag" x="441.65" y="378.8" width="2.5" height="6.2"/>
<rect class="ag" x="445.45" y="377.5" width="2.5" height="7.5"/>
<rect class="ag" x="448.45" y="377.5" width="2.5" height="7.5"/>
<rect class="ag" x="451.35" y="377.5" width="2.5" height="7.5"/>
<rect class="ar" x="454.45" y="377.9" width="2.5" height="7.1"/>
<rect class="ar" x="457.45" y="378.6" width="2.5" height="6.4"/>
<rect class="ar" x="460.55" y="379.9" width="2.5" height="5.1"/>
<rect class="ar" x="463.45" y="380.9" width="2.5" height="4.1"/>
<rect class="ar" x="467.15" y="382.8" width="2.5" height="2.2"/>
<rect class="ar" x="470.25" y="383.5" width="2.5" height="1.5"/>
<rect class="ar" x="476.95" y="384.9" width="2.5" height="2.0"/>
<rect class="ar" x="479.55" y="384.9" width="2.5" height="2.6"/>
<rect class="ar" x="482.55" y="384.9" width="2.5" height="2.6"/>
<rect class="ag" x="485.45" y="384.9" width="2.5" height="2.0"/>
<rect class="ag" x="488.75" y="384.9" width="2.5" height="1.2"/>
<rect class="ar" x="501.25" y="384.9" width="2.5" height="2.0"/>
<rect class="ar" x="504.25" y="384.9" width="2.5" height="2.8"/>
<rect class="ag" x="507.15" y="384.9" width="2.5" height="2.6"/>
<rect class="ag" x="510.05" y="384.9" width="2.5" height="2.0"/>
<rect class="ag" x="514.45" y="384.9" width="2.5" height="2.0"/>
<rect class="ag" x="517.45" y="384.9" width="2.5" height="2.0"/>
<rect class="ag" x="520.35" y="383.5" width="2.5" height="1.5"/>
<rect class="ag" x="523.25" y="383.3" width="2.5" height="1.7"/>
<rect class="ag" x="526.25" y="382.7" width="2.5" height="2.3"/>
<rect class="ag" x="529.15" y="382.7" width="2.5" height="2.3"/>
<rect class="ar" x="532.15" y="382.9" width="2.5" height="2.1"/>
<rect class="ar" x="536.15" y="383.5" width="2.5" height="1.5"/>
<rect class="ar" x="542.65" y="384.9" width="2.5" height="1.2"/>
<rect class="ar" x="545.95" y="384.9" width="2.5" height="1.2"/>
<rect class="ar" x="548.75" y="384.9" width="2.5" height="1.2"/>
<rect class="ag" x="554.55" y="384.9" width="2.5" height="1.2"/>
<rect class="ag" x="557.55" y="383.5" width="2.5" height="1.5"/>
<rect class="ag" x="561.15" y="383.5" width="2.5" height="1.5"/>
<rect class="ag" x="564.45" y="383.0" width="2.5" height="2.0"/>
<rect class="ar" x="567.35" y="383.0" width="2.5" height="2.0"/>
<rect class="ar" x="570.35" y="383.5" width="2.5" height="1.5"/>
<rect class="ag" x="573.35" y="383.3" width="2.5" height="1.7"/>
<rect class="ag" x="576.35" y="383.0" width="2.5" height="2.0"/>
<rect class="ag" x="579.55" y="383.0" width="2.5" height="2.0"/>
<rect class="ag" x="583.35" y="381.5" width="2.5" height="3.5"/>
<rect class="ag" x="586.35" y="381.5" width="2.5" height="3.5"/>
<rect class="ag" x="589.25" y="381.5" width="2.5" height="3.5"/>
<rect class="ar" x="592.35" y="381.9" width="2.5" height="3.1"/>
<rect class="ar" x="595.45" y="383.5" width="2.5" height="1.5"/>
<rect class="ar" x="601.35" y="384.9" width="2.5" height="4.3"/>
<rect class="ar" x="605.35" y="384.9" width="2.5" height="7.5"/>
<rect class="ar" x="608.35" y="384.9" width="2.5" height="8.6"/>
<rect class="ar" x="611.35" y="384.9" width="2.5" height="9.6"/>
<rect class="ag" x="614.25" y="384.9" width="2.5" height="9.2"/>
<rect class="ag" x="617.45" y="384.9" width="2.5" height="7.9"/>
<rect class="ag" x="620.55" y="384.9" width="2.5" height="7.5"/>
<rect class="ag" x="623.45" y="384.9" width="2.5" height="7.2"/>
<rect class="ar" x="626.35" y="384.9" width="2.5" height="8.3"/>
<rect class="ar" x="630.45" y="384.9" width="2.5" height="10.5"/>
<rect class="ar" x="633.45" y="384.9" width="2.5" height="11.8"/>
<rect class="ar" x="636.35" y="384.9" width="2.5" height="13.4"/>
<rect class="ar" x="639.25" y="384.9" width="2.5" height="14.5"/>
<rect class="ag" x="642.35" y="384.9" width="2.5" height="14.2"/>
<rect class="ag" x="645.45" y="384.9" width="2.5" height="13.2"/>
<rect class="ag" x="648.45" y="384.9" width="2.5" height="11.2"/>
<rect class="ag" x="652.45" y="384.9" width="2.5" height="10.5"/>
<rect class="ag" x="655.45" y="384.9" width="2.5" height="8.6"/>
<rect class="ag" x="658.45" y="384.9" width="2.5" height="7.5"/>
<rect class="ag" x="661.35" y="384.9" width="2.5" height="7.2"/>
<rect class="ar" x="664.55" y="384.9" width="2.5" height="8.3"/>
<rect class="ar" x="667.55" y="384.9" width="2.5" height="8.3"/>
<rect class="ag" x="670.45" y="384.9" width="2.5" height="7.2"/>
<rect class="ag" x="674.45" y="384.9" width="2.5" height="7.5"/>
<rect class="ag" x="677.45" y="384.9" width="2.5" height="6.6"/>
<rect class="ag" x="680.45" y="384.9" width="2.5" height="5.7"/>
<rect class="ag" x="683.45" y="384.9" width="2.5" height="4.3"/>
<rect class="ag" x="686.65" y="384.9" width="2.5" height="2.6"/>
<rect class="ag" x="689.65" y="384.9" width="2.5" height="1.3"/>
<rect class="ag" x="695.45" y="382.8" width="2.5" height="2.2"/>
<rect class="ag" x="699.25" y="382.8" width="2.5" height="2.2"/>
<rect class="ar" x="702.35" y="382.8" width="2.5" height="2.2"/>
<rect class="ag" x="705.35" y="382.8" width="2.5" height="2.2"/>
<rect class="ar" x="708.45" y="383.5" width="2.5" height="1.5"/>
<rect class="ar" x="711.55" y="383.5" width="2.5" height="1.5"/>
<rect class="ar" x="714.55" y="383.5" width="2.5" height="1.5"/>
<rect class="ar" x="717.45" y="383.5" width="2.5" height="1.5"/>
<rect class="ar" x="727.45" y="384.9" width="2.5" height="3.0"/>
<rect class="ar" x="730.35" y="384.9" width="2.5" height="4.3"/>
<rect class="ar" x="733.45" y="384.9" width="2.5" height="7.5"/>
<rect class="ar" x="736.55" y="384.9" width="2.5" height="8.6"/>
<rect class="ag" x="739.45" y="384.9" width="2.5" height="6.2"/>
<rect class="ag" x="743.35" y="384.9" width="2.5" height="3.3"/>
<rect class="ag" x="749.25" y="383.5" width="2.5" height="1.5"/>
<rect class="ar" x="752.45" y="383.5" width="2.5" height="1.5"/>
<rect class="ar" x="755.35" y="383.5" width="2.5" height="1.5"/>
<rect class="ar" x="761.55" y="384.9" width="2.5" height="3.0"/>
<rect class="ar" x="764.75" y="384.9" width="2.5" height="3.0"/>
<rect class="ag" x="768.45" y="384.9" width="2.5" height="2.0"/>
<rect class="ar" x="771.65" y="384.9" width="2.5" height="3.0"/>
<rect class="ar" x="774.25" y="384.9" width="2.5" height="3.0"/>
<rect class="ar" x="777.35" y="384.9" width="2.5" height="3.0"/>
<line class="b" x1="5.5" x2="5.5" y1="26" y2="411"/>
<line class="b" x1="870.5" x2="870.5" y1="26" y2="441"/>
<line class="b" x1="5" x2="871" y1="26.5" y2="26.5"/>
<line class="b" x1="5" x2="871" y1="352.5" y2="352.5"/>
<rect x="5.5" y="410.5" width="302" height="30.5" fill="#f7f7f7" stroke="#cfcfcf" stroke-width="1" shape-rendering="crispEdges"/>
<rect x="5" y="441" width="302" height="9" fill="#b4b4b4"/>
<rect x="307.5" y="440.5" width="563" height="9" fill="#fff" stroke="#b0b0b0" stroke-width="1" shape-rendering="crispEdges"/>
<line x1="307.5" x2="307.5" y1="440" y2="450" stroke="#000" stroke-width="1" shape-rendering="crispEdges"/>
<line x1="870.5" x2="870.5" y1="440" y2="450" stroke="#000" stroke-width="1" shape-rendering="crispEdges"/>
<text class="tm" x="5" y="430">10:30</text>
<text class="tm" x="68.7" y="430" text-anchor="middle">11:00</text>
<text class="tm" x="194.0" y="430" text-anchor="middle">12:00</text>
<text class="tm" x="318.5" y="430" text-anchor="middle">13:00</text>
<text class="tm" x="443.0" y="430" text-anchor="middle">14:00</text>
<text class="tm" x="567.5" y="430" text-anchor="middle">15:00</text>
<text class="tm" x="692.0" y="430" text-anchor="middle">16:00</text>
<text class="tm" x="816.5" y="430" text-anchor="middle">17:00</text>
<rect x="300.5" y="415.5" width="14" height="14" fill="#d4d4d4" stroke="#000" stroke-width="1" shape-rendering="crispEdges"/>
<rect x="862.5" y="415.5" width="15" height="14" fill="#d4d4d4" stroke="#000" stroke-width="1" shape-rendering="crispEdges"/>
<text class="tm" x="7.6" y="341.8">12:55</text>
<text class="tm" x="214.0" y="341.8" text-anchor="middle">14:00</text>
<text class="tm" x="403.0" y="341.8" text-anchor="middle">15:00</text>
<text class="tm" x="591.5" y="341.8" text-anchor="middle">16:00</text>
<text class="tm" x="779.5" y="341.8" text-anchor="middle">17:00</text>
<text class="ax" x="875.6" y="33.4">195.2000</text>
<text class="ax" x="875.6" y="74.2">195.0000</text>
<text class="ax" x="875.6" y="115.1">194.8000</text>
<text class="ax" x="875.6" y="156.0">194.6000</text>
<text class="ax" x="875.6" y="196.8">194.4000</text>
<text class="ax" x="875.6" y="237.7">194.2000</text>
<text class="ax" x="875.6" y="278.5">194.0000</text>
<text class="ax" x="875.6" y="319.3">193.8000</text>
<text class="ax" x="875.6" y="360.0">0.50815</text>
<text class="ax" x="875.6" y="387.8">0.00000</text>
<text class="ax" x="875.6" y="407.7">-0.35868</text>
<rect x="866" y="220.8" width="52" height="13.8" rx="3" ry="3" fill="#12992d"/>
<text x="866.8" y="230.8" fill="#fff" style="font-family:'DejaVu Sans',Verdana,sans-serif;font-size:10.8px">194.2100</text>
<text x="375.5" y="367.2" fill="#a8a8a8" style="font-weight:bold;font-size:13px;letter-spacing:.75px">Awesome Oscillator(5,34)</text>
<rect x="21" y="42" width="29" height="28" rx="3.5" ry="3.5" fill="#c6c6c6" fill-opacity=".85"/>
<rect x="21" y="74" width="29" height="28" rx="3.5" ry="3.5" fill="#c6c6c6" fill-opacity=".85"/>
<rect x="21" y="106" width="29" height="28" rx="3.5" ry="3.5" fill="#c6c6c6" fill-opacity=".85"/>
<g stroke="#333" stroke-width="1.4" fill="none" stroke-linecap="round"><circle cx="33.7" cy="54.7" r="4.9"/><line x1="37.4" y1="58.6" x2="42.3" y2="63.4" stroke-width="1.6"/><line x1="31" y1="54.7" x2="36.4" y2="54.7" stroke-width="1.9" stroke-linecap="butt"/><line x1="33.7" y1="52" x2="33.7" y2="57.4" stroke-width="1.9" stroke-linecap="butt"/></g>
<g stroke="#333" stroke-width="1.4" fill="none" stroke-linecap="round"><circle cx="33.7" cy="86.7" r="4.9"/><line x1="37.4" y1="90.6" x2="42.3" y2="95.4" stroke-width="1.6"/><line x1="31.2" y1="86.7" x2="36.2" y2="86.7" stroke-width="1.3"/><circle cx="31.6" cy="86.7" r=".9" fill="#333" stroke="none"/><circle cx="35.8" cy="86.7" r=".9" fill="#333" stroke="none"/></g>
<g stroke="#333" stroke-width="1.4" fill="none" stroke-linecap="round"><path d="M29.2 117.6 A4.9 4.9 0 0 1 38 116"/><path d="M38.4 120.4 A4.9 4.9 0 0 1 29.6 122.6"/><path d="M36.6 115 L39.4 114.4 L39 117.3 Z" fill="#333" stroke-width=".8"/><path d="M28.2 121.4 L31 121.4 L28.4 124.2 Z" fill="#333" stroke-width=".8"/><line x1="37.6" y1="123.8" x2="42.4" y2="128.4" stroke-width="1.6"/></g>
</svg></body></html>
